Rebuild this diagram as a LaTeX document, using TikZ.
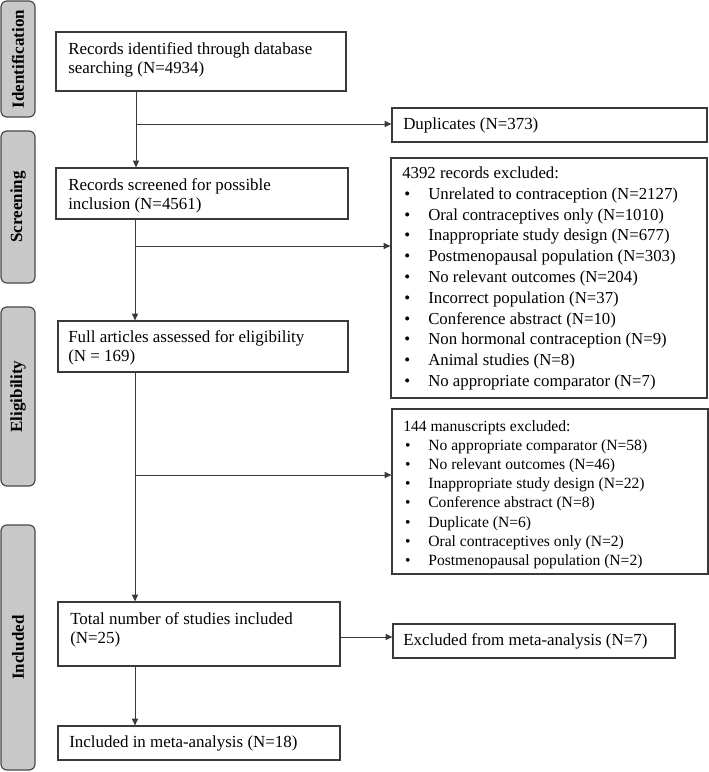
\documentclass[tikz,border=0pt]{standalone}
\usepackage{fontspec}
\setmainfont{Liberation Serif}
\newfontfamily\labfont{Liberation Serif}
\usetikzlibrary{arrows.meta}
\definecolor{boxline}{HTML}{3A3A3A}
\definecolor{labfill}{HTML}{C8C8C8}
\definecolor{labline}{HTML}{4A4A4A}
\newcommand\bul[1]{\makebox[19.5pt][l]{\hspace{1.6pt}\textbullet}#1}
\newcommand\bulb[1]{\makebox[18.8pt][l]{\hspace{1.4pt}\textbullet}#1}
\newcommand\tl[1]{\begin{tabular}[t]{@{}l@{}}#1\end{tabular}}
\newcommand\bx[5]{\node[box, minimum width={(#4-#2)*0.75pt}, minimum height={(#5-#3)*0.75pt}] (#1) at ({(#2+#4)/2},{(#3+#5)/2}) {};}
\newcommand\lb[4]{\node[lab, minimum width={(#4-#3)*0.75pt}, minimum height={34*0.75pt}] (#1) at (18,{(#3+#4)/2}) {#2};}
\tikzset{
  box/.style={draw=boxline, line width=0.9pt, rectangle, inner sep=0pt, fill=white},
  lab/.style={draw=labline, fill=labfill, line width=0.9pt, rounded corners=4.5pt, rotate=90, inner sep=0pt,
    font=\labfont\bfseries\fontsize{12.75pt}{14pt}\selectfont},
  txt/.style={anchor=base west, inner sep=0pt, font=\fontsize{12.7pt}{14.4pt}\selectfont},
  lst/.style={anchor=base west, inner sep=0pt, font=\fontsize{12.6pt}{15.6pt}\selectfont},
  lstb/.style={anchor=base west, inner sep=0pt, font=\fontsize{11.7pt}{14.4pt}\selectfont},
  conn/.style={draw=boxline, line width=0.75pt, -{Triangle[length=5pt,width=4.5pt]}}
}
\begin{document}
\begin{tikzpicture}[x=0.75pt,y=-0.75pt]
\useasboundingbox (0,0) rectangle (709,772);
% phase labels
\lb{lid}{Identification}{1}{117}
\lb{lsc}{Screening}{131}{283}
\lb{lel}{Eligibility}{307}{486}
\lb{lin}{Included}{525}{770}
% boxes
\bx{b1}{56}{32}{346}{91}
\bx{dup}{392}{108}{707}{142}
\bx{b2}{56}{168}{348}{219}
\bx{ex1}{391}{158}{707}{398}
\bx{b3}{58}{321}{348}{372}
\bx{ex2}{392}{409}{708}{574}
\bx{b4}{58}{602}{340}{666}
\bx{ex3}{393}{624}{675}{658}
\bx{b5}{58}{726}{340}{760}
% texts
\node[txt] (t1) at (68,54.3) {\tl{Records identified through database\\searching (N=4934)}};
\node[txt] (tdup) at (403,129.3) {Duplicates (N=373)};
\node[txt] (t2) at (68,190) {\tl{Records screened for possible\\inclusion (N=4561)}};
\node[lst] (tex1) at (402,178.5) {\tl{4392 records excluded:\\
\bul{Unrelated to contraception (N=2127)}\\
\bul{Oral contraceptives only (N=1010)}\\
\bul{Inappropriate study design (N=677)}\\
\bul{Postmenopausal population (N=303)}\\
\bul{No relevant outcomes (N=204)}\\
\bul{Incorrect population (N=37)}\\
\bul{Conference abstract (N=10)}\\
\bul{Non hormonal contraception (N=9)}\\
\bul{Animal studies (N=8)}\\
\bul{No appropriate comparator (N=7)}}};
\node[txt] (t3) at (68,342.3) {\tl{Full articles assessed for eligibility\\(N = 169)}};
\node[lstb] (tex2) at (403,431) {\tl{144 manuscripts excluded:\\
\bulb{No appropriate comparator (N=58)}\\
\bulb{No relevant outcomes (N=46)}\\
\bulb{Inappropriate study design (N=22)}\\
\bulb{Conference abstract (N=8)}\\
\bulb{Duplicate (N=6)}\\
\bulb{Oral contraceptives only (N=2)}\\
\bulb{Postmenopausal population (N=2)}}};
\node[txt] (t4) at (70,624.3) {\tl{Total number of studies included\\(N=25)}};
\node[txt] (tex3) at (403,645) {Excluded from meta-analysis (N=7)};
\node[txt] (t5) at (69,747.3) {Included in meta-analysis (N=18)};
% connectors
\coordinate (j1) at (136,124);
\coordinate (j2) at (135,246);
\coordinate (j3) at (135,475);
\coordinate (j4) at (135,637);
\draw[conn] (b1.south -| j1) -- (b2.north -| j1);
\draw[conn] (j1) -- (dup.west |- j1);
\draw[conn] (b2.south -| j2) -- (b3.north -| j2);
\draw[conn] (j2) -- (ex1.west |- j2);
\draw[conn] (b3.south -| j3) -- (b4.north -| j3);
\draw[conn] (j3) -- (ex2.west |- j3);
\draw[conn] (b4.east |- j4) -- (ex3.west |- j4);
\draw[conn] (b4.south -| j4) -- (b5.north -| j4);
\end{tikzpicture}
\end{document}
